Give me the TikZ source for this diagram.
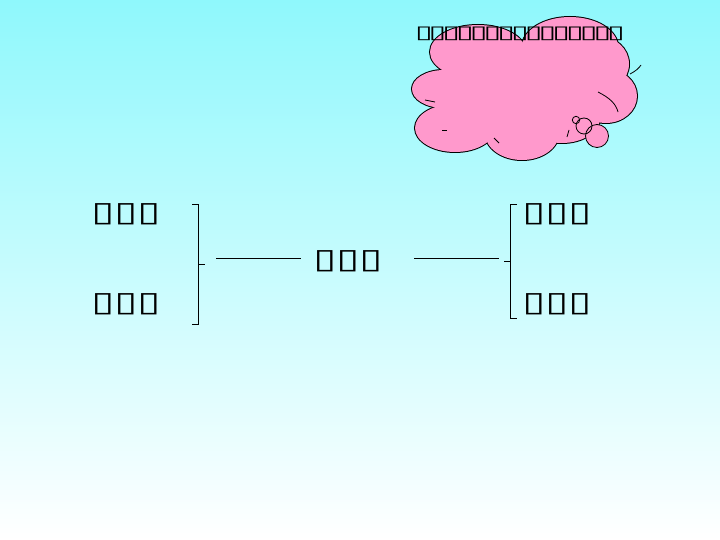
\documentclass[tikz,border=0pt]{standalone}
\usepackage{fontspec}
\newfontfamily\dv{DejaVu Sans}
\newcommand\bigtofu{\makebox[23bp]{\scalebox{1.5}[1]{▯}}}
\newcommand\smalltofu{\makebox[13.73bp]{\scalebox{1.8}[1]{▯}}}
\definecolor{skytop}{RGB}{143,248,252}
\definecolor{cloudpink}{RGB}{255,153,204}
\tikzset{
  tofu/.style={font=\dv\fontsize{28}{28}\selectfont, inner sep=0pt, anchor=center},
  smalltofu/.style={font=\dv\fontsize{18}{18}\selectfont, inner sep=0pt, anchor=center},
  brace/.style={line width=1pt, black},
  link/.style={line width=1pt, black},
  stroke/.style={line width=0.8pt, black},
}
\begin{document}
\begin{tikzpicture}[x=1bp,y=-1bp]
\useasboundingbox (0,0) rectangle (720,540);
\shade[top color=skytop, bottom color=white] (0,0) rectangle (720,540);

% cloud: outlines first (double width), then fills
\def\lobes{478/52/48/27, 570/47/48/30, 598/64/31/28, 606/96/31/27, 562/118/38/25, 522/133/37/27, 455/128/40/24, 444/89/32/19, 520/90/80/40}
\foreach \cx/\cy/\rx/\ry in \lobes{
  \draw[line width=2pt] (\cx,\cy) ellipse [x radius=\rx, y radius=\ry];
}
\foreach \cx/\cy/\rx/\ry in \lobes{
  \fill[cloudpink] (\cx,\cy) ellipse [x radius=\rx, y radius=\ry];
}
% bubbles
\fill[cloudpink] (597,136) circle (11.5);
\fill[cloudpink] (584,126) circle (8);
\draw[stroke] (597,136) circle (11.5);
\draw[stroke] (584,126) circle (8);
\draw[stroke] (576,120) circle (3.7);
% stray inner strokes
\draw[stroke] (425,100) -- (435,102);
\draw[stroke] (442,130) -- (447,130);
\draw[stroke] (494,138) -- (499,143);
\draw[stroke] (567,137) -- (569,130);
\draw[stroke] (598,92) .. controls (610,98) and (616,104) .. (618,112);
\draw[stroke] (630,74) .. controls (636,71) and (639,68) .. (641,65);

\node[smalltofu] (title) at (520,34) {\smalltofu\smalltofu\smalltofu\smalltofu\smalltofu\smalltofu\smalltofu\smalltofu\smalltofu\smalltofu\smalltofu\smalltofu\smalltofu\smalltofu\smalltofu};

\node[tofu] (lt) at (126,214) {\bigtofu\bigtofu\bigtofu};
\node[tofu] (lb) at (126,304) {\bigtofu\bigtofu\bigtofu};
\node[tofu] (mid) at (348,261) {\bigtofu\bigtofu\bigtofu};
\node[tofu] (rt) at (557,214) {\bigtofu\bigtofu\bigtofu};
\node[tofu] (rb) at (557,304) {\bigtofu\bigtofu\bigtofu};

\coordinate (lbt) at (198,204);
\coordinate (lbb) at (198,324);
\coordinate (lbm) at (198,264);
\draw[brace] (192,204) -- (lbt) -- (lbb) -- (192,324);
\draw[brace] (lbm) -- (205,264);

\coordinate (rbt) at (510,204);
\coordinate (rbb) at (510,318);
\coordinate (rbm) at (510,261);
\draw[brace] (517,204) -- (rbt) -- (rbb) -- (517,318);
\draw[brace] (504,261) -- (rbm);

\coordinate (la) at (216,258);
\coordinate (lz) at (301,258);
\coordinate (ra) at (414,258);
\coordinate (rz) at (499,258);
\draw[link] (la) -- (lz);
\draw[link] (ra) -- (rz);
\end{tikzpicture}
\end{document}
